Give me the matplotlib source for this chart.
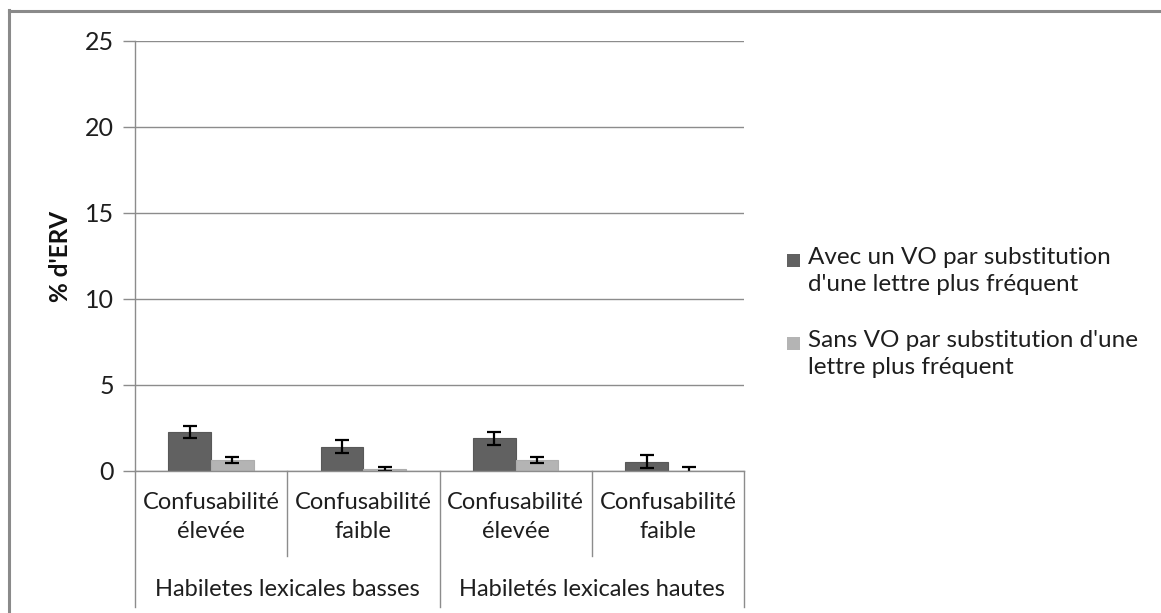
import matplotlib
matplotlib.use("Agg")
import matplotlib.pyplot as plt
import numpy as np
from matplotlib.patches import Rectangle
from matplotlib.lines import Line2D

plt.rcParams['font.family'] = ['Lato', 'DejaVu Sans']

# ---- data ----
sub_labels = ["Confusabilité\nélevée", "Confusabilité\nfaible",
              "Confusabilité\nélevée", "Confusabilité\nfaible"]
group_labels = ["Habiletes lexicales basses", "Habiletés lexicales hautes"]
series_names = ["Avec un VO par substitution\nd'une lettre plus fréquent",
                "Sans VO par substitution d'une\nlettre plus fréquent"]
avec_vals = [2.25, 1.42, 1.90, 0.55]
avec_err = [0.35, 0.38, 0.39, 0.38]
sans_vals = [0.63, 0.10, 0.63, 0.02]
sans_err = [0.19, 0.11, 0.19, 0.19]
y_ticks = [0, 5, 10, 15, 20, 25]
colors = ["#616161", "#b4b4b4"]

W, H = 1161, 613
fig = plt.figure(figsize=(W / 100, H / 100), dpi=100)
fig.patch.set_facecolor("white")

# axes in pixel coords
x0, x1 = 135, 744
y_top, y_zero = 41, 471
ax = fig.add_axes([x0 / W, (H - y_zero) / H, (x1 - x0) / W, (y_zero - y_top) / H])

n = len(sub_labels)
x = np.arange(n)
bw = 0.28
grid_c = "#8c8c8c"
txt_c = "#1e1e1e"
fs = 17

ax.set_xlim(-0.5, n - 0.5)
ax.set_ylim(y_ticks[0], y_ticks[-1])
ax.set_yticks(y_ticks)
ax.yaxis.grid(True, color=grid_c, lw=1.0)
ax.set_axisbelow(True)
for s in ["top", "right", "bottom"]:
    ax.spines[s].set_visible(False)
ax.spines["left"].set_color(grid_c)
ax.spines["left"].set_linewidth(1.0)
ax.tick_params(axis="y", length=9, width=1.0, color=grid_c, pad=6,
               labelsize=fs + 1, labelcolor=txt_c)
ax.set_xticks([])

err_kw = dict(ecolor="black", elinewidth=1.6, capsize=5, capthick=1.6)
ax.bar(x - bw / 2, avec_vals, bw, color=colors[0], edgecolor="#585858", lw=0.8,
       yerr=avec_err, error_kw=err_kw, zorder=3)
ax.bar(x + bw / 2, sans_vals, bw, color=colors[1], edgecolor="#adadad", lw=0.8,
       yerr=sans_err, error_kw=err_kw, zorder=3)

ax.set_ylabel("% d'ERV", fontsize=17.5, fontweight="bold", color="#111111")
ax.yaxis.set_label_coords(-0.104, 0.5)

# multi-level category axis
tr = ax.get_xaxis_transform()
ppx = 1.0 / (y_zero - y_top)  # axes fraction per pixel
ax.plot([-0.5, n - 0.5], [0, 0], transform=tr, color=grid_c, lw=1.0, clip_on=False, zorder=4)
for b in np.arange(n + 1) - 0.5:
    long = b in (-0.5, n / 2 - 0.5, n - 0.5)
    depth = (607 - y_zero) if long else (556 - y_zero)
    ax.plot([b, b], [0, -depth * ppx], transform=tr, color=grid_c, lw=1.0, clip_on=False)
for i, lab in enumerate(sub_labels):
    ax.text(x[i], -(492 - y_zero) * ppx, lab, transform=tr, ha="center", va="top",
            fontsize=fs, linespacing=1.5, color=txt_c)
for g, lab in enumerate(group_labels):
    cx = g * 2 + 0.5
    ax.text(cx, -(590 - y_zero) * ppx, lab, transform=tr, ha="center", va="center",
            fontsize=fs, color=txt_c)

# legend (manual)
leg_tops = [247, 330]
for k, name in enumerate(series_names):
    ytop = leg_tops[k]
    fig.text(808 / W, 1 - ytop / H, name, ha="left", va="top", fontsize=fs + 0.5,
             linespacing=1.35, color=txt_c)
    fig.patches.append(Rectangle((787 / W, 1 - (ytop + 20) / H), 13 / W, 13 / H,
                                 transform=fig.transFigure, facecolor=colors[k],
                                 edgecolor="none"))

# outer frame (partial, as in the reference crop)
fig.add_artist(Line2D([9 / W, 9 / W], [0, 1 - 10 / H], transform=fig.transFigure,
                      color="#8a8a8a", lw=2.2))
fig.add_artist(Line2D([9 / W, 1], [1 - 11 / H, 1 - 11 / H], transform=fig.transFigure,
                      color="#8a8a8a", lw=2.2))

fig.savefig("out.png", dpi=100)
